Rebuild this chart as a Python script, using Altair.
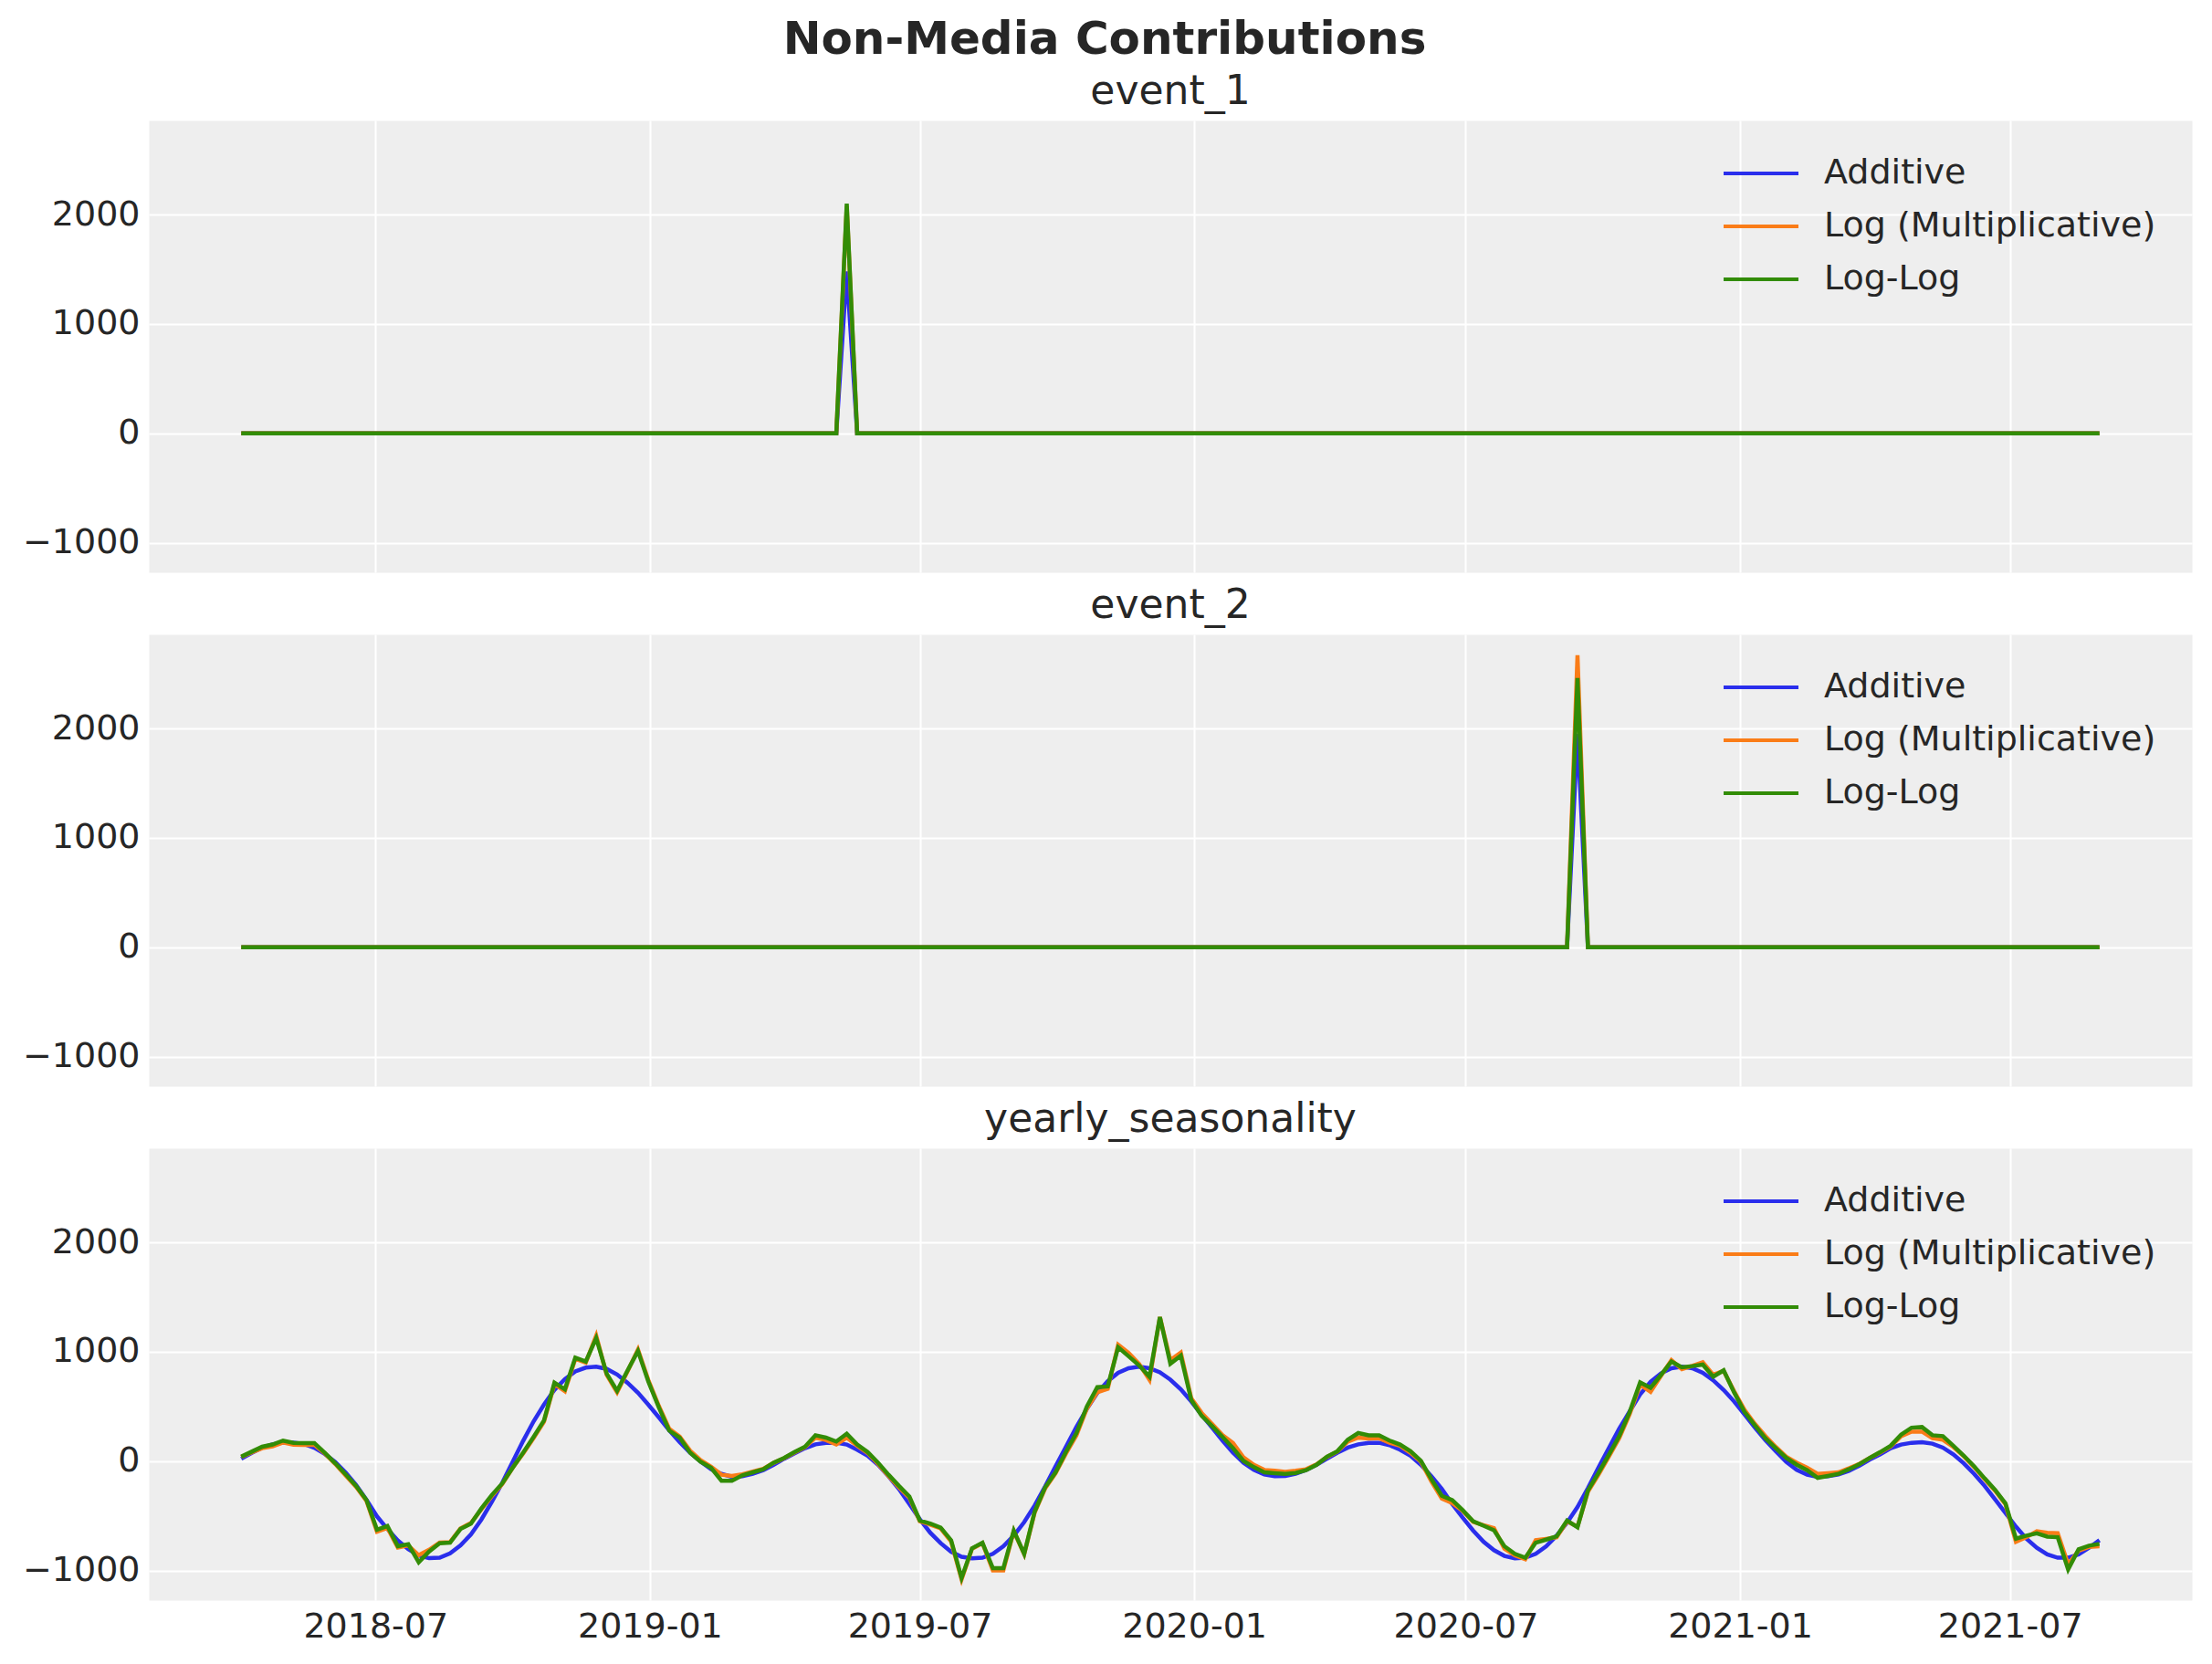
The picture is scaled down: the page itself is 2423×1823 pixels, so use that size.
import altair as alt
import pandas as pd

# ---------------- data ----------------
START_DATE = "2018-04-02"
N_WEEKS = 179
MODELS = ["Additive", "Log (Multiplicative)", "Log-Log"]
COLORS = ["#2a2eec", "#fa7c17", "#328c06"]

# events: zero except on the event week
event_1_date = "2019-05-13"
event_1_peak = [1480, 2080, 2100]      # Additive, Log, Log-Log
event_2_date = "2020-09-14"
event_2_peak = [1950, 2670, 2460]

season_additive = [
    22, 75, 124, 154, 172, 170, 158, 122, 66, -8,
    -105, -218, -355, -505, -620, -725, -805, -862, -887, -883,
    -842, -770, -670, -533, -373, -198, -5, 185, 363, 517,
    652, 750, 820, 855, 864, 843, 792, 716, 625, 516,
    401, 281, 173, 76, -3, -74, -116, -143, -138, -116,
    -83, -33, 22, 72, 119, 154, 168, 168, 152, 105,
    50, -33, -138, -254, -392, -530, -654, -750, -828, -874,
    -888, -883, -847, -778, -681, -557, -406, -232, -47, 132,
    312, 477, 623, 731, 808, 850, 863, 850, 812, 745,
    657, 546, 422, 306, 188, 77, -14, -80, -121, -138,
    -135, -116, -80, -33, 22, 77, 124, 154, 168, 168,
    146, 105, 50, -33, -138, -254, -392, -516, -634, -737,
    -814, -866, -888, -883, -847, -778, -681, -563, -419, -246,
    -61, 119, 298, 455, 610, 725, 803, 850, 863, 850,
    808, 739, 651, 546, 428, 306, 193, 91, -6, -80,
    -124, -143, -138, -121, -88, -41, 14, 63, 119, 152,
    168, 174, 160, 124, 63, -19, -116, -226, -350, -474,
    -599, -709, -792, -852, -883, -883, -852, -792, -723,
]

season_log = [
    38, 80, 118, 135, 170, 150, 148, 150, 70, -25,
    -130, -235, -365, -645, -610, -790, -770, -860, -810, -745,
    -740, -615, -565, -440, -320, -210, -60, 70, 210, 360,
    705, 640, 935, 900, 1147, 790, 629, 820, 1020, 740,
    505, 295, 225, 95, 10, -50, -124, -135, -120, -95,
    -70, -15, 28, 80, 128, 215, 193, 152, 215, 140,
    75, -25, -135, -240, -335, -550, -580, -615, -735, -1081,
    -800, -750, -999, -999, -640, -850, -470, -250, -110, 70,
    235, 480, 629, 662, 1064, 990, 890, 744, 1317, 923,
    993, 575, 441, 339, 237, 166, 36, -33, -80, -88,
    -97, -88, -74, -30, 38, 88, 179, 215, 207, 210,
    168, 141, 77, -5, -185, -342, -383, -455, -555, -585,
    -612, -800, -861, -897, -723, -710, -695, -550, -599, -280,
    -125, 40, 210, 430, 700, 634, 780, 924, 841, 872,
    905, 789, 825, 640, 469, 340, 229, 130, 41, -14,
    -61, -116, -110, -102, -65, -25, 30, 80, 135, 229,
    270, 270, 210, 196, 130, 45, -55, -165, -270, -395,
    -737, -695, -640, -654, -659, -943, -819, -783, -778,
]

season_loglog = [
    41, 87, 132, 152, 188, 168, 166, 166, 77, -19,
    -121, -226, -356, -626, -593, -778, -759, -924, -825, -750,
    -745, -620, -571, -433, -309, -204, -61, 77, 221, 372,
    717, 657, 946, 910, 1125, 800, 643, 828, 1007, 726,
    491, 279, 215, 77, -5, -61, -179, -179, -130, -102,
    -74, -14, 30, 83, 132, 237, 215, 179, 251, 152,
    83, -14, -124, -226, -323, -543, -571, -607, -723, -1068,
    -797, -745, -979, -979, -634, -847, -461, -240, -102, 86,
    257, 499, 676, 683, 1041, 959, 876, 772, 1317, 890,
    965, 560, 414, 320, 221, 119, 3, -55, -102, -110,
    -116, -108, -83, -33, 41, 91, 196, 257, 237, 237,
    188, 152, 91, 3, -163, -317, -356, -447, -549, -590,
    -632, -778, -847, -883, -745, -717, -687, -543, -604, -268,
    -110, 58, 229, 450, 720, 670, 789, 910, 858, 869,
    883, 772, 830, 629, 450, 326, 210, 119, 30, -33,
    -83, -152, -135, -116, -74, -28, 30, 83, 141, 243,
    306, 312, 237, 229, 141, 50, -47, -157, -262, -386,
    -709, -681, -659, -690, -695, -990, -806, -772, -756,
]

X_TICKS = ["2018-07", "2019-01", "2019-07", "2020-01", "2020-07", "2021-01", "2021-07"]
Y_TICKS = [-1000, 0, 1000, 2000]

# ---------------- table ----------------
dates = pd.date_range(START_DATE, periods=N_WEEKS, freq="7D")
rows = []
for m_i, model in enumerate(MODELS):
    for d in dates:
        ds = d.strftime("%Y-%m-%d")
        rows.append({"panel": "event_1", "model": model, "m": m_i, "date": ds,
                     "value": event_1_peak[m_i] if ds == event_1_date else 0})
        rows.append({"panel": "event_2", "model": model, "m": m_i, "date": ds,
                     "value": event_2_peak[m_i] if ds == event_2_date else 0})
season = [season_additive, season_log, season_loglog]
for m_i, model in enumerate(MODELS):
    for d, v in zip(dates, season[m_i]):
        rows.append({"panel": "yearly_seasonality", "model": model, "m": m_i,
                     "date": d.strftime("%Y-%m-%d"), "value": v})
df = pd.DataFrame(rows)

FONT = "DejaVu Sans"
TXT = "#262626"
W, H = 2238, 495

x_domain = [alt.DateTime(year=2018, month=1, date=30),
            alt.DateTime(year=2021, month=10, date=31)]
x_values = [alt.DateTime(year=int(t[:4]), month=int(t[5:]), date=1) for t in X_TICKS]


def panel(name, show_labels):
    xaxis = alt.Axis(values=x_values, format="%Y-%m", labels=show_labels,
                     grid=True, ticks=False, domain=False, title=None,
                     labelPadding=10, labelFontSize=38, labelFont=FONT,
                     labelColor=TXT, gridColor="#ffffff", gridWidth=2)
    yaxis = alt.Axis(values=Y_TICKS, format="d", title=None,
                     ticks=False, domain=False, labelPadding=10,
                     labelFontSize=38, labelFont=FONT, labelColor=TXT,
                     gridColor="#ffffff", gridWidth=2,
                     minExtent=144, maxExtent=144)
    return (
        alt.Chart(df[df.panel == name])
        .mark_line(strokeWidth=4.5, clip=True)
        .encode(
            x=alt.X("date:T", scale=alt.Scale(domain=x_domain), axis=xaxis),
            y=alt.Y("value:Q",
                    scale=alt.Scale(domain=[-1270, 2860], nice=False, zero=False),
                    axis=yaxis),
            color=alt.Color("model:N",
                            scale=alt.Scale(domain=MODELS, range=COLORS),
                            legend=alt.Legend(orient="none", legendX=1723, legendY=29,
                                              title=None, symbolType="stroke",
                                              symbolSize=6724, symbolStrokeWidth=4,
                                              labelFontSize=38, labelFont=FONT,
                                              labelColor=TXT, labelOffset=26,
                                              labelLimit=0, clipHeight=58,
                                              rowPadding=0, padding=0)),
            order=alt.Order("m:Q"),
        )
        .properties(width=W, height=H,
                    title=alt.TitleParams(name, fontSize=44, font=FONT, color=TXT,
                                          fontWeight="normal", baseline="alphabetic",
                                          offset=-26))
    )


chart = (
    alt.vconcat(panel("event_1", False), panel("event_2", False),
                panel("yearly_seasonality", True), spacing=13)
    .resolve_legend(color="independent")
    .resolve_scale(color="shared")
    .properties(
        title=alt.TitleParams("Non-Media Contributions", fontSize=50, font=FONT,
                              fontWeight="bold", color=TXT, anchor="middle",
                              baseline="top", offset=10),
        padding={"left": 10, "top": 10, "right": 12, "bottom": 10},
        background="#ffffff",
    )
    .configure_axis(grid=True, gridColor="#ffffff", gridWidth=2,
                    labelFont=FONT, labelFontSize=38, labelColor=TXT)
    .configure_view(fill="#eeeeee", stroke="transparent")
)

chart.save("out.html", embed_options={"renderer": "svg", "actions": False})
